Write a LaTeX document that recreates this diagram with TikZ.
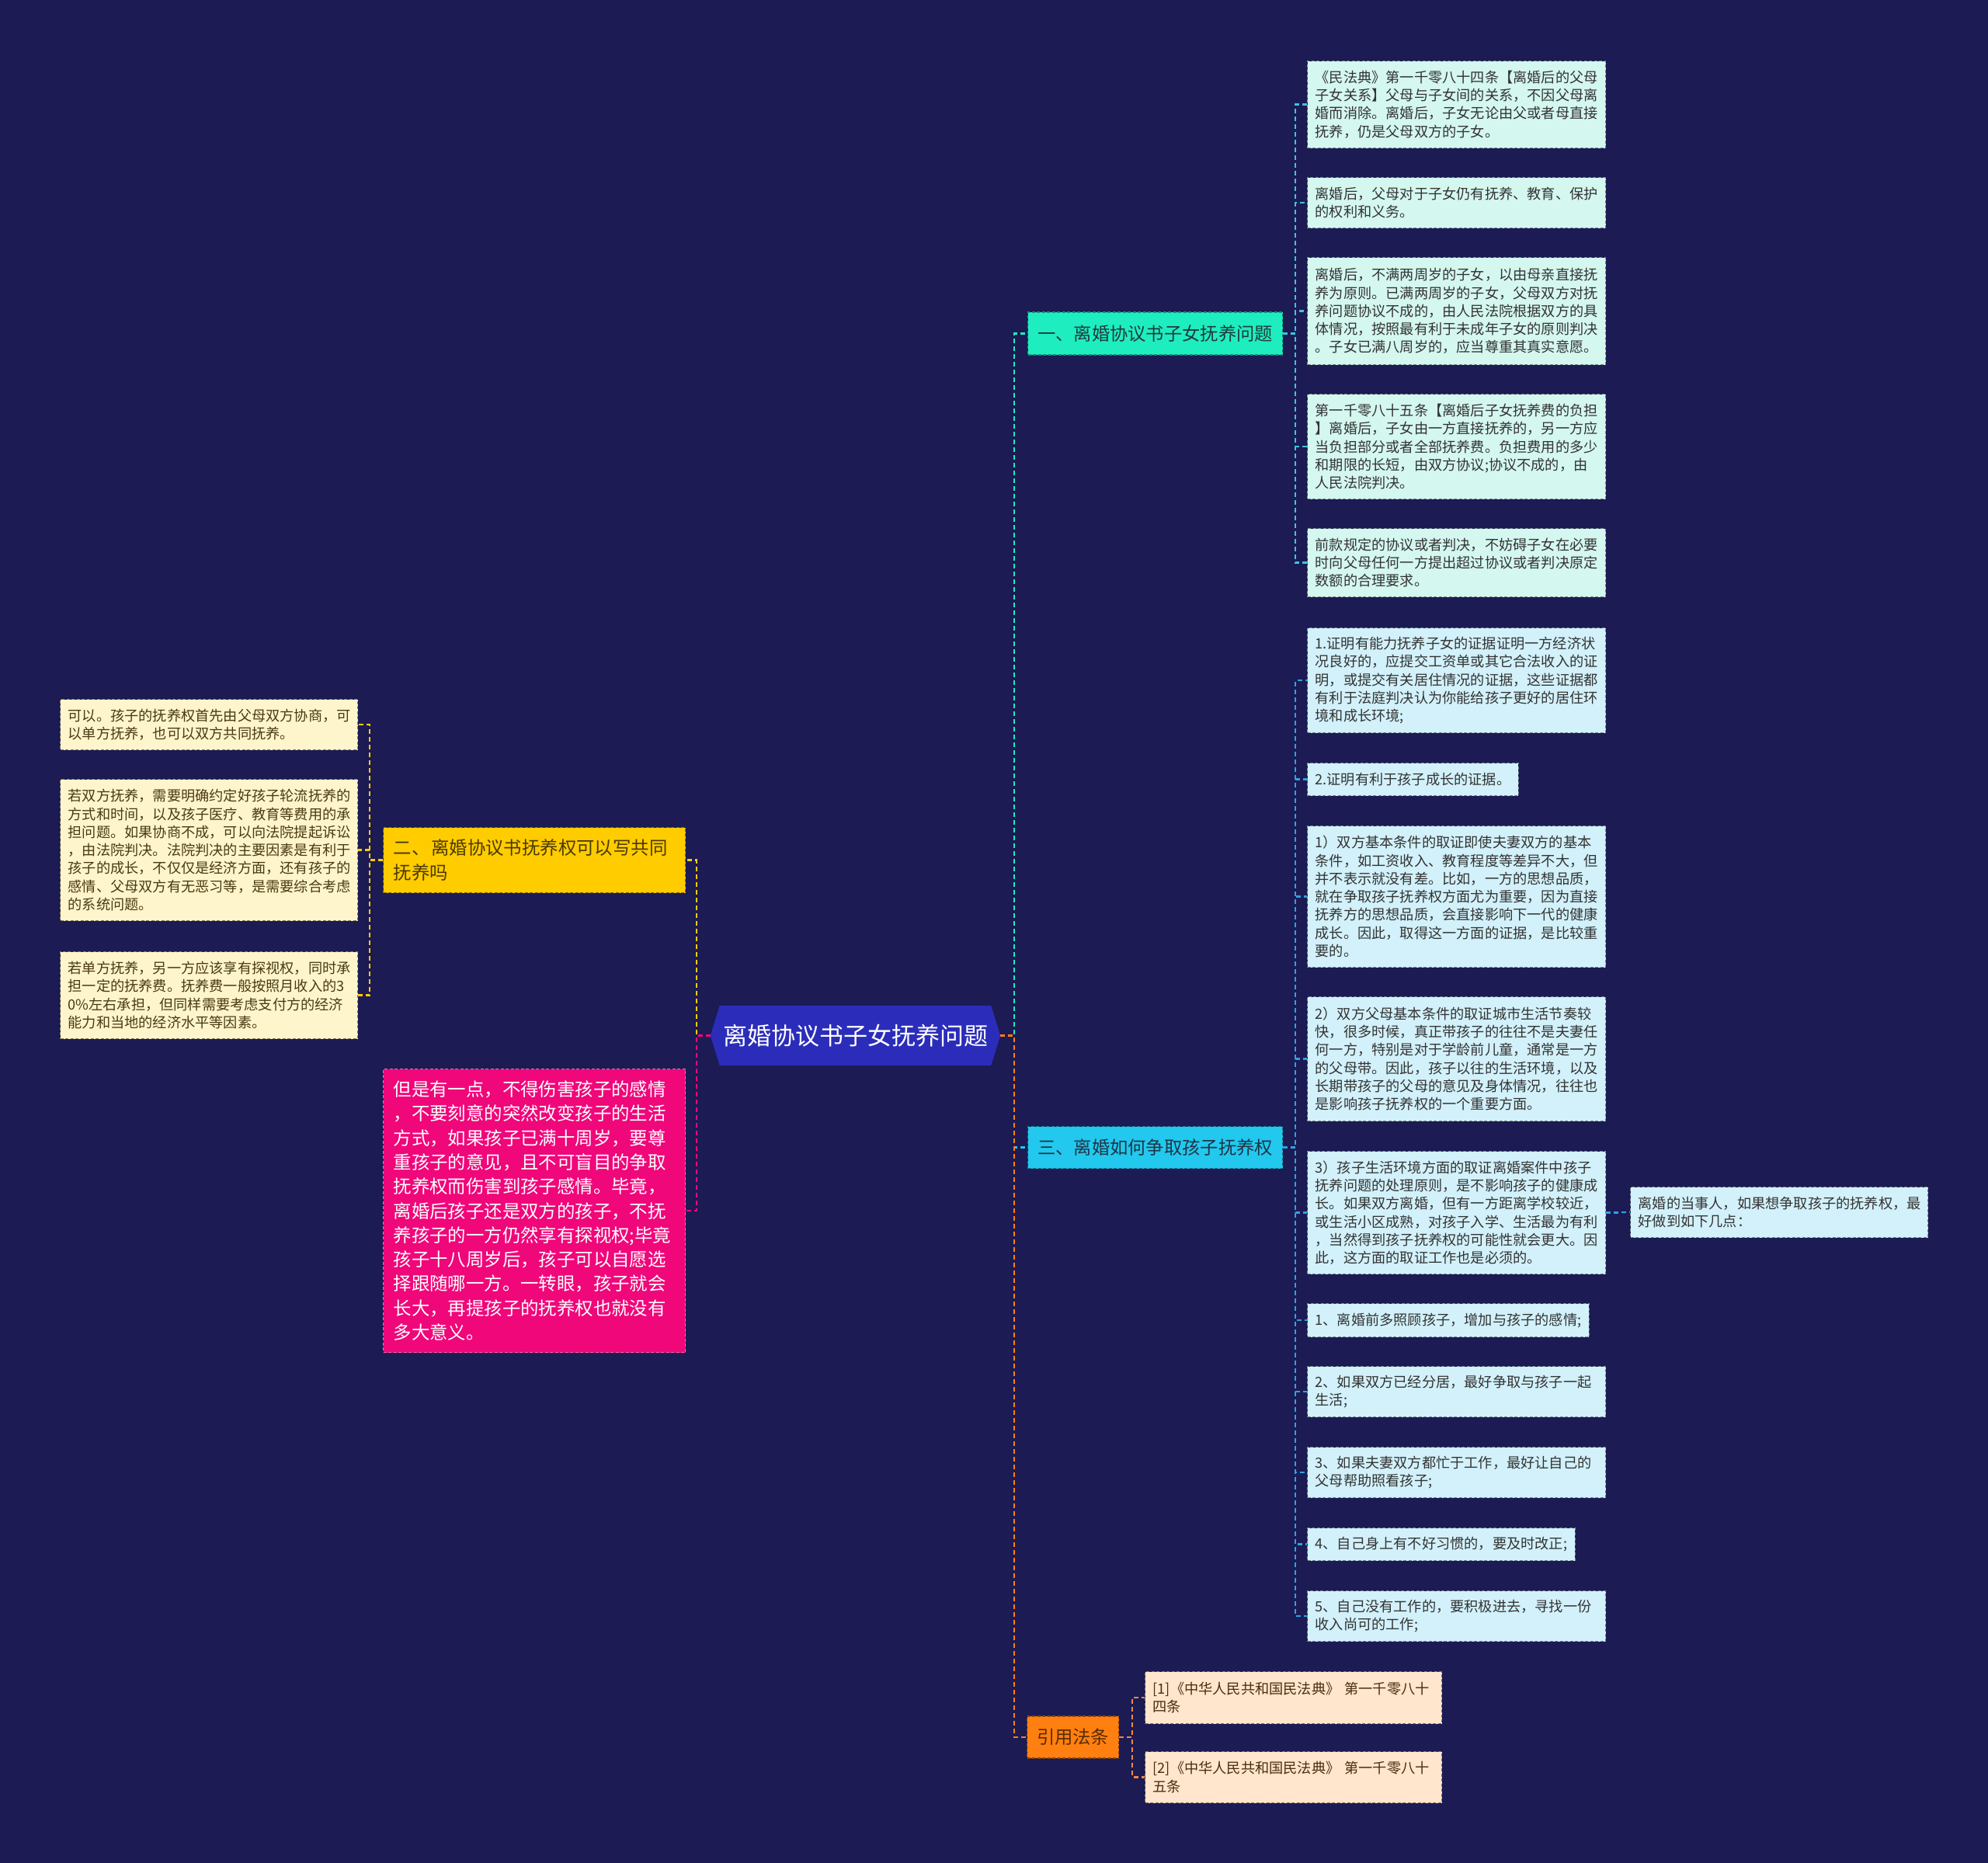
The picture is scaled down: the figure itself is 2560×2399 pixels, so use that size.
\documentclass[tikz,border=0pt]{standalone}
\usepackage{fontspec}
\setmainfont{Noto Sans CJK SC}
\usetikzlibrary{backgrounds}
\definecolor{bgnavy}{HTML}{1C1B54}
\definecolor{rootblue}{HTML}{2B2DBA}
\definecolor{tealbr}{HTML}{1EEDC0}
\definecolor{cyanbr}{HTML}{22C8EE}
\definecolor{yellowbr}{HTML}{FFCC00}
\definecolor{pinkbr}{HTML}{F0077A}
\definecolor{orangebr}{HTML}{FF8010}
\definecolor{aleaf}{HTML}{D4F7EF}
\definecolor{cleaf}{HTML}{D2F1FA}
\definecolor{bleaf}{HTML}{FFF5CC}
\definecolor{rleaf}{HTML}{FFE6CC}
\definecolor{ahub}{HTML}{3CC6DC}
\definecolor{chub}{HTML}{2EA2E0}
\definecolor{rhub}{HTML}{F08A40}
\begin{document}
\begin{tikzpicture}[x=1pt,y=-1pt,
  box/.style={anchor=north west, inner xsep=10pt, inner ysep=0pt, align=left,
    line width=1.2pt, dash pattern=on 4pt off 2.5pt,
    font=\fontsize{18.2pt}{23.3pt}\selectfont},
  abox/.style={box, fill=aleaf, draw=aleaf!55!black, text=black!80, text width=364pt},
  cbox/.style={box, fill=cleaf, draw=cleaf!55!black, text=black!80, text width=364pt},
  cshort/.style={box, fill=cleaf, draw=cleaf!55!black, text=black!80},
  bbox/.style={box, fill=bleaf, draw=bleaf!50!black, text={rgb,255:red,74;green,58;blue,16}, text width=363pt},
  rbox/.style={box, fill=rleaf, draw=rleaf!50!black, text={rgb,255:red,74;green,46;blue,16}, text width=362pt},
  branch/.style={anchor=west, inner sep=0pt, line width=1.2pt, dash pattern=on 4pt off 2.5pt,
    font=\fontsize{23.3pt}{28pt}\selectfont},
  bigbox/.style={anchor=north west, inner xsep=13pt, inner ysep=0pt, align=left, text width=363pt,
    line width=1.2pt, dash pattern=on 4pt off 2.5pt,
    font=\fontsize{23.4pt}{31.3pt}\selectfont},
  edge/.style={line width=2.5pt, dash pattern=on 6pt off 4pt},
]
\begin{scope}[on background layer]
  \fill[bgnavy] (0,0) rectangle (2560,2399);
\end{scope}
\useasboundingbox (0,0) rectangle (2560,2399);

% root
\node[inner sep=0pt, minimum width=373pt, minimum height=77pt, text=white,
  font=\fontsize{31pt}{36pt}\selectfont] (root) at (1101.5,1333.5) {离婚协议书子女抚养问题};
\begin{scope}[on background layer]
  \fill[rootblue] ([xshift=12pt]root.north west) -- ([xshift=-12pt]root.north east) -- (root.east)
    -- ([xshift=-12pt]root.south east) -- ([xshift=12pt]root.south west) -- (root.west) -- cycle;
\end{scope}

% branches
\node[branch, fill=tealbr, draw=tealbr!60!black, text={rgb,255:red,31;green,59;blue,59},
  minimum width=328pt, minimum height=55pt] (n1) at (1323,429.5) {一、离婚协议书子女抚养问题};
\node[branch, fill=cyanbr, draw=cyanbr!60!black, text={rgb,255:red,31;green,53;blue,69},
  minimum width=328pt, minimum height=54pt] (n3) at (1323,1477.5) {三、离婚如何争取孩子抚养权};
\node[branch, fill=orangebr, draw=orangebr!55!black, text={rgb,255:red,90;green,42;blue,0},
  minimum width=118pt, minimum height=54pt] (n4) at (1322,2237) {引用法条};
\node[bigbox, fill=yellowbr, draw=yellowbr!50!black, text={rgb,255:red,74;green,58;blue,0},
  minimum height=84pt] (Y) at (493,1065) {二、\hspace{2pt}离婚协议书抚养权可以写共同\\抚养吗};
\node[bigbox, fill=pinkbr, draw=pinkbr!60!white, text=white,
  minimum height=365pt] (P) at (493,1376) {但是有一点，不得伤害孩子的感情\\，不要刻意的突然改变孩子的生活\\方式，如果孩子已满十周岁，要尊\\重孩子的意见，且不可盲目的争取\\抚养权而伤害到孩子感情。毕竟，\\离婚后孩子还是双方的孩子，不抚\\养孩子的一方仍然享有探视权;毕竟\\孩子十八周岁后，孩子可以自愿选\\择跟随哪一方。一转眼，孩子就会\\长大，再提孩子的抚养权也就没有\\多大意义。};

% A leaves
\node[abox, minimum height=112pt] (a1) at (1683,78) {《民法典》第一千零八十四条【离婚后的父母\\子女关系】父母与子女间的关系，不因父母离\\婚而消除。离婚后，子女无论由父或者母直接\\抚养，仍是父母双方的子女。};
\node[abox, minimum height=65pt] (a2) at (1683,228) {离婚后，父母对于子女仍有抚养、教育、保护\\的权利和义务。};
\node[abox, minimum height=138pt] (a3) at (1683,331) {离婚后，不满两周岁的子女，以由母亲直接抚\\养为原则。已满两周岁的子女，父母双方对抚\\养问题协议不成的，由人民法院根据双方的具\\体情况，按照最有利于未成年子女的原则判决\\。子女已满八周岁的，应当尊重其真实意愿。};
\node[abox, minimum height=135pt] (a4) at (1683,507) {第一千零八十五条【离婚后子女抚养费的负担\\】离婚后，子女由一方直接抚养的，另一方应\\当负担部分或者全部抚养费。负担费用的多少\\和期限的长短，由双方协议;协议不成的，由\\人民法院判决。};
\node[abox, minimum height=88pt] (a5) at (1683,680) {前款规定的协议或者判决，不妨碍子女在必要\\时向父母任何一方提出超过协议或者判决原定\\数额的合理要求。};

% C leaves
\node[cbox, minimum height=135pt] (c1) at (1683,808) {1.证明有能力抚养子女的证据证明一方经济状\\况良好的，应提交工资单或其它合法收入的证\\明，或提交有关居住情况的证据，这些证据都\\有利于法庭判决认为你能给孩子更好的居住环\\境和成长环境;};
\node[cshort, minimum width=271pt, minimum height=42pt] (c2) at (1683,982) {2.证明有利于孩子成长的证据。};
\node[cbox, minimum height=182pt] (c3) at (1683,1063) {1）双方基本条件的取证即使夫妻双方的基本\\条件，如工资收入、教育程度等差异不大，但\\并不表示就没有差。比如，一方的思想品质，\\就在争取孩子抚养权方面尤为重要，因为直接\\抚养方的思想品质，会直接影响下一代的健康\\成长。因此，取得这一方面的证据，是比较重\\要的。};
\node[cbox, minimum height=160pt] (c4) at (1683,1283) {2）双方父母基本条件的取证城市生活节奏较\\快，很多时候，真正带孩子的往往不是夫妻任\\何一方，特别是对于学龄前儿童，通常是一方\\的父母带。因此，孩子以往的生活环境，以及\\长期带孩子的父母的意见及身体情况，往往也\\是影响孩子抚养权的一个重要方面。};
\node[cbox, minimum height=158pt] (c5) at (1683,1482) {3）孩子生活环境方面的取证离婚案件中孩子\\抚养问题的处理原则，是不影响孩子的健康成\\长。如果双方离婚，但有一方距离学校较近，\\或生活小区成熟，对孩子入学、生活最为有利\\，当然得到孩子抚养权的可能性就会更大。因\\此，这方面的取证工作也是必须的。};
\node[cshort, minimum width=362pt, minimum height=43pt] (c6) at (1683,1678) {1、离婚前多照顾孩子，增加与孩子的感情;};
\node[cbox, minimum height=65pt] (c7) at (1683,1759) {2、如果双方已经分居，最好争取与孩子一起\\生活;};
\node[cbox, minimum height=65pt] (c8) at (1683,1863) {3、如果夫妻双方都忙于工作，最好让自己的\\父母帮助照看孩子;};
\node[cshort, minimum width=344pt, minimum height=42pt] (c9) at (1683,1967) {4、自己身上有不好习惯的，要及时改正;};
\node[cbox, minimum height=65pt] (c10) at (1683,2048) {5、自己没有工作的，要积极进去，寻找一份\\收入尚可的工作;};
\node[cbox, text width=363pt, minimum height=65pt] (d1) at (2099,1528) {离婚的当事人，如果想争取孩子的抚养权，最\\好做到如下几点：};

% B leaves
\node[bbox, minimum height=65pt] (b1) at (77,900) {可以。孩子的抚养权首先由父母双方协商，可\\以单方抚养，也可以双方共同抚养。};
\node[bbox, minimum height=182pt] (b2) at (77,1003) {若双方抚养，需要明确约定好孩子轮流抚养的\\方式和时间，以及孩子医疗、教育等费用的承\\担问题。如果协商不成，可以向法院提起诉讼\\，由法院判决。法院判决的主要因素是有利于\\孩子的成长，不仅仅是经济方面，还有孩子的\\感情、父母双方有无恶习等，是需要综合考虑\\的系统问题。};
\node[bbox, minimum height=112pt] (b3) at (77,1225) {若单方抚养，另一方应该享有探视权，同时承\\担一定的抚养费。抚养费一般按照月收入的3\\0\%左右承担，但同样需要考虑支付方的经济\\能力和当地的经济水平等因素。};

% R leaves
\node[rbox, minimum height=67pt] (r1) at (1474,2152) {[1]《中华人民共和国民法典》 第一千零八十\\四条};
\node[rbox, minimum height=66pt] (r2) at (1474,2255) {[2]《中华人民共和国民法典》 第一千零八十\\五条};

% connectors
\draw[edge, yellowbr] (root.west) -- ++(-18,0) |- (Y.east);
\draw[edge, pinkbr] (root.west) -- ++(-18,0) |- (P.east);
\foreach \t in {b1,b2,b3} \draw[edge, yellowbr] (Y.west) -- ++(-17,0) |- (\t.east);
\draw[edge, tealbr] (root.east) -- ++(18,0) |- (n1.west);
\draw[edge, cyanbr] (root.east) -- ++(18,0) |- (n3.west);
\draw[edge, orangebr] (root.east) -- ++(18,0) |- (n4.west);
\foreach \t in {a1,a2,a3,a4,a5} \draw[edge, ahub] (n1.east) -- ++(16,0) |- (\t.west);
\foreach \t in {c1,c2,c3,c4,c5,c6,c7,c8,c9,c10} \draw[edge, chub] (n3.east) -- ++(16,0) |- (\t.west);
\draw[edge, chub] (c5.east) -- ++(16,0) |- (d1.west);
\foreach \t in {r1,r2} \draw[edge, rhub] (n4.east) -- ++(17,0) |- (\t.west);
\end{tikzpicture}
\end{document}
